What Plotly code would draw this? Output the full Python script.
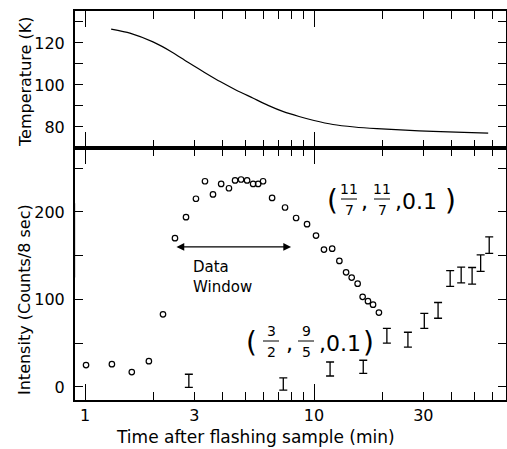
import numpy as np
import plotly.graph_objects as go

# ---------------- data ----------------
time_temp = [1.30, 1.57, 1.98, 2.40, 2.79, 3.30, 3.89, 4.60, 5.4, 6.3, 7.35, 8.6, 10.0, 12.1, 15.0, 18.8, 25.0, 33.1, 45.0, 57.6]
temperature = [126.6, 124.7, 120.5, 115.6, 111.0, 106.2, 101.6, 97.4, 93.8, 90.3, 87.3, 85.0, 83.1, 81.2, 80.0, 79.2, 78.5, 77.9, 77.4, 77.1]

time_circ = [1.01, 1.31, 1.60, 1.90, 2.19, 2.47, 2.76, 3.05, 3.34, 3.62, 3.93, 4.25,
             4.52, 4.80, 5.10, 5.42, 5.70, 5.99, 6.56, 7.47, 8.35, 9.32, 10.2, 11.05,
             12.0, 12.9, 13.8, 14.6, 15.5, 16.3, 17.2, 18.1, 19.2]
intensity_circ = [25, 26, 17, 29.5, 83, 170, 194, 215, 235, 220, 232, 227,
                  236, 237, 236, 232, 232, 235, 216, 205, 193, 186, 173, 157,
                  158, 144, 131, 125, 118, 103, 98, 94, 85]

time_err = [2.84, 7.34, 11.75, 16.4, 20.8, 25.7, 30.3, 34.8, 39.3, 43.9, 49.0, 53.4, 58.2]
intensity_err = [7, 3.4, 20.5, 23, 58.5, 54, 75.5, 87.5, 124, 128, 127, 141.5, 162]
err_size = [7.5, 7, 8, 7.5, 8.5, 8.5, 8.5, 9, 9, 9, 9.5, 9.5, 9.5]

x_tick_vals = [1, 2, 3, 4, 5, 6, 7, 8, 9, 10, 20, 30, 40, 50, 60]
x_tick_text = ["1", "", "3", "", "", "", "", "", "", "10", "", "30", "", "", ""]
x_major_vals = [1, 10]

temp_tick_vals = [70, 80, 90, 100, 110, 120, 130]
temp_tick_text = ["", "80", "", "100", "", "120", ""]
int_tick_vals = [0, 50, 100, 150, 200, 250]
int_tick_text = ["0", "", "100", "", "200", ""]

x_range = [0.904, 68.9]
temp_range = [70, 135.2]
int_range = [-14.9, 273]

window_start, window_end = 2.47, 7.94
window_low, window_high = 125, 210
arrow_level = 160

FONT = "DejaVu Sans"
W, H = 507, 449
ML, MR, MT, MB = 75, 1, 11, 49
split = (400 - 148) / 389.0


def px(xp):
    return (xp - ML) / (W - ML - MR)


def py(yp):
    return (H - MB - yp) / (H - MT - MB)


fig = go.Figure()

fig.add_trace(go.Scatter(x=time_temp, y=temperature, mode="lines",
                         line=dict(color="black", width=1.2, shape="spline", smoothing=0.6),
                         xaxis="x2", yaxis="y2", showlegend=False))
fig.add_trace(go.Scatter(x=time_circ, y=intensity_circ, mode="markers",
                         marker=dict(symbol="circle-open", size=5.5, color="black",
                                     line=dict(width=1.2, color="black")),
                         xaxis="x", yaxis="y", showlegend=False))
fig.add_trace(go.Scatter(x=time_err, y=intensity_err, mode="markers",
                         marker=dict(size=1, color="rgba(0,0,0,0)"),
                         error_y=dict(type="data", array=err_size, width=4,
                                      thickness=1.3, color="black"),
                         xaxis="x", yaxis="y", showlegend=False))
# empty traces to register the overlay axes (long decade ticks)
fig.add_trace(go.Scatter(x=[], y=[], xaxis="x3", yaxis="y", showlegend=False, hoverinfo="skip"))
fig.add_trace(go.Scatter(x=[], y=[], xaxis="x4", yaxis="y2", showlegend=False, hoverinfo="skip"))

lr = [np.log10(x_range[0]), np.log10(x_range[1])]
common_x = dict(type="log", range=lr, ticks="inside", tickwidth=1.2, tickcolor="black",
                showgrid=False, zeroline=False, automargin=False)
common_y = dict(ticks="inside", ticklen=8, tickwidth=1.2, tickcolor="black", showline=True,
                linewidth=2, linecolor="black", mirror="ticks", showgrid=False,
                zeroline=False, ticklabelstandoff=5, automargin=False,
                tickfont=dict(family=FONT, size=16))
fig.update_layout(
    width=W, height=H,
    margin=dict(l=ML, r=MR, t=MT, b=MB, autoexpand=False),
    paper_bgcolor="white", plot_bgcolor="white",
    font=dict(family=FONT, color="black", size=16),
    xaxis=dict(**common_x, domain=[0, 1], anchor="y", tickvals=x_tick_vals,
               ticktext=x_tick_text, ticklen=8, showline=True, linewidth=2,
               linecolor="black", mirror="ticks", ticklabelstandoff=0,
               tickfont=dict(family=FONT, size=16)),
    xaxis2=dict(**common_x, domain=[0, 1], anchor="y2", tickvals=x_tick_vals,
                ticktext=x_tick_text, ticklen=8, showline=True, linewidth=2,
                linecolor="black", mirror="ticks", showticklabels=False),
    xaxis3=dict(**common_x, overlaying="x", anchor="y", tickvals=x_major_vals,
                ticklen=16, showline=False, mirror="ticks", showticklabels=False),
    xaxis4=dict(**common_x, overlaying="x2", anchor="y2", tickvals=x_major_vals,
                ticklen=16, showline=False, mirror="ticks", showticklabels=False),
    yaxis=dict(**common_y, domain=[0, split], anchor="x", range=int_range,
               tickvals=int_tick_vals, ticktext=int_tick_text),
    yaxis2=dict(**common_y, domain=[split, 1], anchor="x2", range=temp_range,
                tickvals=temp_tick_vals, ticktext=temp_tick_text),
)

shapes = []
for xv in (window_start, window_end):
    shapes.append(dict(type="line", xref="x", yref="y", x0=np.log10(xv), x1=np.log10(xv),
                       y0=window_low, y1=window_high, line=dict(color="black", width=1.2)))

annotations = []
annotations.append(dict(x=np.log10(window_end), y=arrow_level, ax=np.log10(window_start),
                        ay=arrow_level, axref="x", ayref="y", xref="x", yref="y", text="",
                        showarrow=True, arrowhead=2, arrowside="end+start", arrowsize=1.3,
                        arrowwidth=1.2, arrowcolor="black", standoff=0, startstandoff=0))
annotations.append(dict(x=px(191), y=py(256), xref="paper", yref="paper",
                        text="Data<br>Window", showarrow=False, xanchor="left", yanchor="top",
                        align="left", font=dict(family=FONT, size=15)))

# titles
annotations.append(dict(x=px(255), y=py(437), xref="paper", yref="paper",
                        xanchor="center", yanchor="middle",
                        text="Time after flashing sample (min)", showarrow=False,
                        font=dict(family=FONT, size=17)))
annotations.append(dict(x=px(25), y=py(82), xref="paper", yref="paper",
                        xanchor="center", yanchor="middle",
                        text="Temperature (K)", textangle=-90, showarrow=False,
                        font=dict(family=FONT, size=16)))
annotations.append(dict(x=px(24), y=py(300), xref="paper", yref="paper",
                        xanchor="center", yanchor="middle",
                        text="Intensity (Counts/8 sec)", textangle=-90, showarrow=False,
                        font=dict(family=FONT, size=16)))


def label_tuple(x_open, yc, fracs, comma_x, tail_x, x_close):
    out_a, out_s = [], []
    out_a.append(dict(x=px(x_open), y=py(yc), text="(", font=dict(family=FONT, size=28)))
    out_a.append(dict(x=px(x_close), y=py(yc), text=")", font=dict(family=FONT, size=28)))
    for (xc, num, den) in fracs:
        out_a.append(dict(x=px(xc), y=py(yc - 11), text=num, font=dict(family=FONT, size=14)))
        out_a.append(dict(x=px(xc), y=py(yc + 10), text=den, font=dict(family=FONT, size=14)))
        out_s.append(dict(type="line", xref="paper", yref="paper", x0=px(xc - 8), x1=px(xc + 8),
                          y0=py(yc - 1), y1=py(yc - 1), line=dict(color="black", width=1)))
    out_a.append(dict(x=px(comma_x), y=py(yc + 1), text=",", font=dict(family=FONT, size=22)))
    out_a.append(dict(x=px(tail_x), y=py(yc + 1), text=",0.1", xanchor="left",
                      font=dict(family=FONT, size=22)))
    for a in out_a:
        a.setdefault("xanchor", "center")
        a.update(xref="paper", yref="paper", showarrow=False, yanchor="middle")
    return out_a, out_s


a1, s1 = label_tuple(332, 200, [(349, "11", "7"), (382, "11", "7")], 364, 393, 450)
a2, s2 = label_tuple(251, 342, [(271, "3", "2"), (306, "9", "5")], 289, 317, 368)
annotations += a1 + a2
shapes += s1 + s2

fig.update_layout(shapes=shapes, annotations=annotations)
fig.write_html("out.html", config={"displayModeBar": False},
               post_script="document.body.style.margin='0px';")
